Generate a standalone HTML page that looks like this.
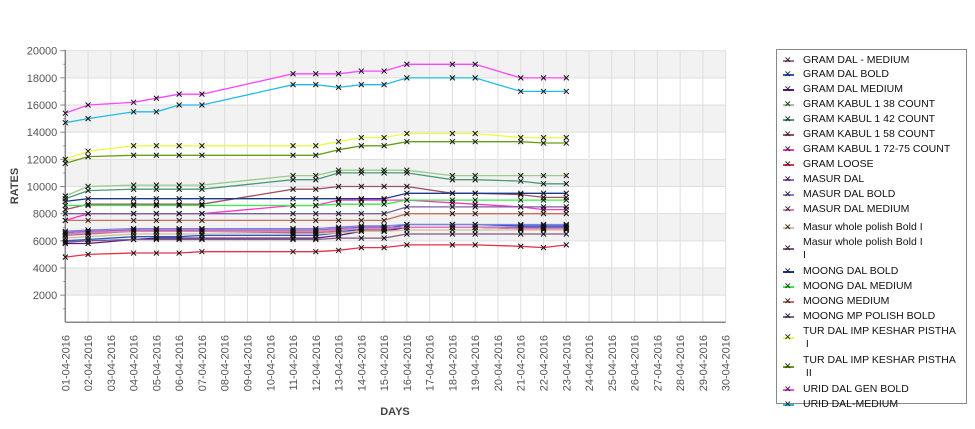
<!DOCTYPE html>
<html><head><meta charset="utf-8">
<style>
body{margin:0;background:#fff;font-family:"Liberation Sans","DejaVu Sans",sans-serif;}
#wrap{position:relative;width:975px;height:429px;overflow:hidden;}
#legend{position:absolute;left:776px;top:49px;width:191px;height:355px;border:1px solid #888;box-sizing:border-box;background:#fff;}
.le{position:absolute;left:0;font-size:10.5px;color:#111;line-height:13px;}
.le .sw{position:absolute;left:6px;width:11px;height:2px;}
.le .mk{position:absolute;left:7px;font-size:9px;color:#222;line-height:12px;}
.le .tx{position:absolute;left:26px;white-space:nowrap;}
</style></head>
<body>
<div id="wrap">
<svg id="svg" width="975" height="429" style="position:absolute;left:0;top:0"></svg>
<div id="legend"></div>
</div>
<script>
const days=[1,2,4,5,6,7,11,12,13,14,15,16,18,19,21,22,23];
const seriesNames=["GRAM DAL - MEDIUM","GRAM DAL BOLD","GRAM DAL MEDIUM","GRAM KABUL 1 38 COUNT","GRAM KABUL 1 42 COUNT","GRAM KABUL 1 58 COUNT","GRAM KABUL 1 72-75 COUNT","GRAM LOOSE","MASUR DAL","MASUR DAL BOLD","MASUR DAL MEDIUM","Masur whole polish Bold I","Masur whole polish Bold I I","MOONG DAL BOLD","MOONG DAL MEDIUM","MOONG MEDIUM","MOONG MP POLISH BOLD","TUR DAL IMP KESHAR PISTHA I","TUR DAL IMP KESHAR PISTHA II","URID DAL GEN BOLD","URID DAL-MEDIUM"];
const gramDalMedium=[6400,6500,6700,6700,6700,6700,6600,6600,6700,6800,6800,7000,7000,7000,6900,6900,6900];
const gramDalBold=[6000,6100,6300,6300,6300,6400,6400,6400,6600,6900,6900,7200,7200,7200,7100,7100,7100];
const gramDalMedium2=[5800,5800,6100,6200,6200,6200,6200,6200,6400,6700,6700,7000,7000,7000,6900,7000,7000];
const kabul38=[9300,10000,10100,10100,10100,10100,10800,10800,11200,11200,11200,11200,10800,10800,10800,10800,10800];
const kabul42=[9100,9700,9800,9800,9800,9800,10500,10500,11000,11000,11000,11000,10500,10500,10400,10200,10200];
const kabul58=[8300,8700,8700,8700,8700,8700,9800,9800,10000,10000,10000,10000,9500,9500,9400,9200,9200];
const kabul7275=[7500,8000,8000,8000,8000,8000,8600,8600,9000,9000,9000,9000,8800,8700,8500,8300,8300];
const gramLoose=[4800,5000,5100,5100,5100,5200,5200,5200,5300,5500,5500,5700,5700,5700,5600,5500,5700];
const masurDal=[6600,6700,6800,6800,6800,6800,6800,6800,6900,7000,7000,7000,7000,7000,7000,7000,7000];
const masurDalBold=[6700,6800,6900,6900,6900,6900,6900,6900,7000,7100,7100,7200,7200,7200,7200,7200,7200];
const masurDalMedium=[6500,6600,6700,6700,6700,6700,6700,6700,6800,6900,6900,7000,7000,7000,6900,6900,6900];
const masurBold1=[6200,6300,6500,6500,6500,6500,6500,6500,6600,6700,6700,6800,6800,6800,6800,6800,6800];
const masurBold2=[5900,6000,6100,6100,6100,6100,6100,6100,6200,6200,6200,6500,6500,6500,6500,6500,6500];
const moongDalBold=[8900,9100,9100,9100,9100,9100,9100,9100,9100,9100,9100,9500,9500,9500,9500,9500,9500];
const moongDalMedium=[8600,8600,8600,8600,8600,8600,8600,8600,8700,8700,8700,9000,9000,9000,9000,9000,9000];
const moongMedium=[7500,7500,7500,7500,7500,7500,7500,7500,7500,7500,7500,8000,8000,8000,8000,8000,8000];
const moongMp=[8000,8000,8000,8000,8000,8000,8000,8000,8000,8000,8000,8500,8500,8500,8500,8500,8500];
const turI=[12000,12600,13000,13000,13000,13000,13000,13000,13300,13600,13600,13900,13900,13900,13600,13600,13600];
const turII=[11700,12200,12300,12300,12300,12300,12300,12300,12700,13000,13000,13300,13300,13300,13300,13200,13200];
const uridGen=[15400,16000,16200,16500,16800,16800,18300,18300,18300,18500,18500,19000,19000,19000,18000,18000,18000];
const uridMed=[14700,15000,15500,15500,16000,16000,17500,17500,17300,17500,17500,18000,18000,18000,17000,17000,17000];
const seriesValues=[gramDalMedium,gramDalBold,gramDalMedium2,kabul38,kabul42,kabul58,kabul7275,gramLoose,masurDal,masurDalBold,masurDalMedium,masurBold1,masurBold2,moongDalBold,moongDalMedium,moongMedium,moongMp,turI,turII,uridGen,uridMed];
const yTicks=[2000,4000,6000,8000,10000,12000,14000,16000,18000,20000];
const xLabels=[];for(let d=1;d<=30;d++)xLabels.push((d<10?"0":"")+d+"-04-2016");
const colors=["#b06a9a","#1f5fd0","#5a1a80","#99cc88","#4a9a78","#a05060","#ff33cc","#e8304a","#9a60c0","#8080e0","#e080b0","#d8c098","#805880","#1a3a8a","#33ee44","#c87060","#7a60a0","#e8ff40","#66a010","#ff44ff","#22bbe8"];
const X0=65.3,X1=725.7,Y0=322.3,Y1=50.7;
const xs=d=>X0+(d-1)*(X1-X0)/29;
const ys=v=>Y0-v*(Y0-Y1)/20000;
const NS="http://www.w3.org/2000/svg";
const svg=document.getElementById('svg');
function mk(t,a,p){const e=document.createElementNS(NS,t);for(const k in a)e.setAttribute(k,a[k]);(p||svg).appendChild(e);return e;}
for(let v=2000;v<20000;v+=4000){
 const b=mk('rect',{x:X0,y:ys(v+2000),width:X1-X0,height:ys(v)-ys(v+2000),fill:'#f2f2f2'});
 
 
}
for(let d=1;d<=30;d++){
 const g=mk('line',{x1:xs(d),x2:xs(d),y1:Y1,y2:Y0,stroke:'#dedede','stroke-width':1});
 
 
 const t=mk('text',{x:0,y:0,'font-size':11,fill:'#555','text-anchor':'end',transform:`translate(${xs(d)+4},335) rotate(-90)`,'font-family':'Liberation Sans, sans-serif'});
 t.textContent=xLabels[d-1];
 
 
}
yTicks.forEach(v=>{
 const g=mk('line',{x1:X0,x2:X1,y1:ys(v),y2:ys(v),stroke:'#dedede','stroke-width':1});
 
 
 mk('line',{x1:X0-5,x2:X0,y1:ys(v),y2:ys(v),stroke:'#888'});
 const t=mk('text',{x:X0-8,y:ys(v)+4,'font-size':11,fill:'#555','text-anchor':'end','font-family':'Liberation Sans, sans-serif'});
 t.textContent=v;
 
 
});
for(let v=1000;v<20000;v+=2000)mk('line',{x1:X0-2,x2:X0,y1:ys(v),y2:ys(v),stroke:'#888'});
mk('line',{x1:X0,x2:X0,y1:Y1-1,y2:Y0,stroke:'#888','stroke-width':1.5});
mk('line',{x1:X0,x2:X1,y1:Y0,y2:Y0,stroke:'#888','stroke-width':1.5});
seriesValues.forEach((vals,i)=>{
 const pts=vals.map((v,j)=>xs(days[j]).toFixed(1)+','+ys(v).toFixed(1)).join(' ');
 const pl=mk('polyline',{points:pts,fill:'none',stroke:colors[i],'stroke-width':1.3});
 
 
});
seriesValues.forEach((vals,i)=>{
 vals.forEach((v,j)=>{
  const x=xs(days[j]),y=ys(v);
  const p=mk('path',{d:`M${x-2.5},${y-2.5}L${x+2.5},${y+2.5}M${x-2.5},${y+2.5}L${x+2.5},${y-2.5}`,stroke:'#111','stroke-width':1});
  
  
 });
});
const yt=mk('text',{x:0,y:0,'font-size':11,'font-weight':'bold',fill:'#444','text-anchor':'middle',transform:'translate(18,186) rotate(-90)','font-family':'Liberation Sans, sans-serif'});
yt.textContent='RATES';


const xt=mk('text',{x:395,y:415,'font-size':11,'font-weight':'bold',fill:'#444','text-anchor':'middle','font-family':'Liberation Sans, sans-serif'});
xt.textContent='DAYS';


const leg=document.getElementById('legend');
const legTop=[10,24,39,54,69,84,99,114,129,144,159,177,192,221,236,251,266,281,310,339,354];
const legLabels=["GRAM DAL - MEDIUM","GRAM DAL BOLD","GRAM DAL MEDIUM","GRAM KABUL 1 38 COUNT","GRAM KABUL 1 42 COUNT","GRAM KABUL 1 58 COUNT","GRAM KABUL 1 72-75 COUNT","GRAM LOOSE","MASUR DAL","MASUR DAL BOLD","MASUR DAL MEDIUM","Masur whole polish Bold I","Masur whole polish Bold I<br>I","MOONG DAL BOLD","MOONG DAL MEDIUM","MOONG MEDIUM","MOONG MP POLISH BOLD","TUR DAL IMP KESHAR PISTHA<br>&nbsp;I","TUR DAL IMP KESHAR PISTHA<br>&nbsp;II","URID DAL GEN BOLD","URID DAL-MEDIUM"];
legLabels.forEach((l,i)=>{
 const two=l.indexOf('<br>')>=0;
 const e=document.createElement('div');
 e.className='le';
 e.style.top=(legTop[i]-6)+'px';
 const cy=two?12:6;
 e.innerHTML=`<span class="sw" style="top:${cy}px;background:${colors[i]}"></span><span class="mk" style="top:${cy-6}px">✕</span><span class="tx">${l}</span>`;
 
 
 leg.appendChild(e);
});
</script>
</body></html>
